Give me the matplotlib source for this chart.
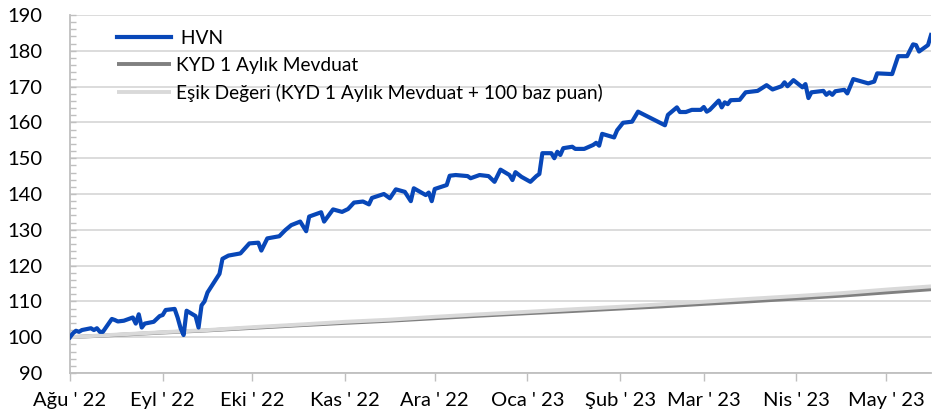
import matplotlib
matplotlib.use("Agg")
import matplotlib.pyplot as plt
from matplotlib.ticker import MultipleLocator
import pandas as pd

plt.rcParams['font.family'] = ['Lato', 'DejaVu Sans']

# ---------------- data ----------------
hvn_dates = [
    "2022-08-01", "2022-08-02", "2022-08-03", "2022-08-04", "2022-08-05", "2022-08-08", "2022-08-09",
    "2022-08-10", "2022-08-11", "2022-08-12", "2022-08-15", "2022-08-16", "2022-08-17", "2022-08-19",
    "2022-08-22", "2022-08-23", "2022-08-24", "2022-08-25", "2022-08-26", "2022-08-29", "2022-08-31",
    "2022-09-01", "2022-09-02", "2022-09-05", "2022-09-06", "2022-09-07", "2022-09-08", "2022-09-09",
    "2022-09-12", "2022-09-13", "2022-09-14", "2022-09-15", "2022-09-16", "2022-09-20", "2022-09-21",
    "2022-09-23", "2022-09-27", "2022-09-30",
    "2022-10-03", "2022-10-04", "2022-10-06", "2022-10-10", "2022-10-12", "2022-10-14", "2022-10-17",
    "2022-10-19", "2022-10-20", "2022-10-24", "2022-10-25", "2022-10-28", "2022-10-31",
    "2022-11-02", "2022-11-04", "2022-11-07", "2022-11-09", "2022-11-10", "2022-11-14", "2022-11-16",
    "2022-11-18", "2022-11-21", "2022-11-23", "2022-11-24", "2022-11-28", "2022-11-29", "2022-11-30",
    "2022-12-01", "2022-12-05", "2022-12-06", "2022-12-08", "2022-12-12", "2022-12-13", "2022-12-16",
    "2022-12-19", "2022-12-21", "2022-12-23", "2022-12-26", "2022-12-27", "2022-12-28", "2022-12-30",
    "2023-01-02", "2023-01-04", "2023-01-05", "2023-01-06", "2023-01-09", "2023-01-10", "2023-01-11",
    "2023-01-12", "2023-01-13", "2023-01-16", "2023-01-17", "2023-01-20", "2023-01-23", "2023-01-24",
    "2023-01-25", "2023-01-26", "2023-01-30", "2023-01-31",
    "2023-02-02", "2023-02-05", "2023-02-07", "2023-02-16", "2023-02-17", "2023-02-20", "2023-02-21",
    "2023-02-23", "2023-02-25", "2023-02-28",
    "2023-03-01", "2023-03-02", "2023-03-03", "2023-03-06", "2023-03-07", "2023-03-08", "2023-03-09",
    "2023-03-10", "2023-03-13", "2023-03-15", "2023-03-19", "2023-03-22", "2023-03-24", "2023-03-27",
    "2023-03-28", "2023-03-29", "2023-03-31",
    "2023-04-03", "2023-04-04", "2023-04-05", "2023-04-06", "2023-04-10", "2023-04-11", "2023-04-12",
    "2023-04-13", "2023-04-14", "2023-04-17", "2023-04-18", "2023-04-20", "2023-04-25", "2023-04-27",
    "2023-04-28",
    "2023-05-03", "2023-05-05", "2023-05-08", "2023-05-10", "2023-05-11", "2023-05-12", "2023-05-15",
    "2023-05-16",
]
hvn_values = [
    100.0, 101.1, 101.8, 101.5, 102.0, 102.5, 102.0, 102.5, 101.5, 101.5,
    105.1, 104.8, 104.4, 104.6, 105.5, 103.8, 106.4, 102.7, 103.8, 104.3, 105.9,
    106.2, 107.6, 107.9, 105.5, 102.5, 100.6, 107.4, 105.9, 102.7, 108.9, 110.0, 112.5,
    117.7, 121.9, 122.8, 123.4, 126.2,
    126.4, 124.2, 127.6, 128.2, 129.9, 131.3, 132.3, 129.6, 133.7, 134.9, 132.3, 135.7, 135.0,
    135.8, 137.6, 137.9, 137.1, 138.9, 140.0, 138.8, 141.3, 140.6, 138.0, 141.6, 139.7, 140.4, 138.0,
    141.4, 142.5, 145.1, 145.3, 145.0, 144.4, 145.3, 145.0, 143.4, 146.8, 145.3, 143.9, 146.1, 144.8,
    143.4, 145.0, 145.6, 151.4, 151.4, 150.0, 151.8, 150.9, 152.8, 153.2, 152.6, 152.6, 153.7, 154.3,
    153.5, 156.8, 155.8, 157.8,
    159.9, 160.2, 163.0, 159.2, 162.1, 164.2, 162.9, 162.9, 163.5, 163.5,
    164.3, 163.0, 163.5, 166.1, 164.2, 165.6, 165.1, 166.2, 166.3, 168.4, 168.8, 170.4, 169.2, 170.1,
    171.2, 170.1, 171.8,
    169.8, 170.7, 166.8, 168.4, 168.8, 167.7, 168.4, 167.7, 168.7, 169.1, 168.1, 172.1, 170.9, 171.4,
    173.7,
    173.5, 178.5, 178.5, 181.8, 181.6, 179.8, 181.6, 184.4,
]

ref_dates = [
    "2022-08-01", "2022-08-16", "2022-09-01", "2022-09-16", "2022-10-01", "2022-10-16",
    "2022-11-01", "2022-11-16", "2022-12-01", "2022-12-16", "2023-01-01", "2023-01-16",
    "2023-02-01", "2023-02-15", "2023-03-01", "2023-03-16", "2023-04-01", "2023-04-16",
    "2023-05-01", "2023-05-16",
]
kyd_values = [
    100.0, 100.6, 101.3, 101.9, 102.6, 103.3, 104.0, 104.6, 105.3, 106.0,
    106.7, 107.3, 108.0, 108.6, 109.3, 110.0, 110.8, 111.6, 112.5, 113.4,
]
esik_values = [
    100.0, 100.7, 101.4, 102.0, 102.8, 103.5, 104.3, 104.9, 105.7, 106.4,
    107.1, 107.8, 108.5, 109.2, 109.9, 110.7, 111.5, 112.3, 113.3, 114.2,
]

month_ticks = ["2022-08-01", "2022-09-01", "2022-10-01", "2022-11-01", "2022-12-01",
               "2023-01-01", "2023-02-01", "2023-03-01", "2023-04-01", "2023-05-01"]
month_labels = ["Ağu ' 22", "Eyl ' 22", "Eki ' 22", "Kas ' 22", "Ara ' 22",
                "Oca ' 23", "Şub ' 23", "Mar ' 23", "Nis ' 23", "May ' 23"]

series_names = [" HVN", "KYD 1 Aylık Mevduat", "Eşik Değeri (KYD 1 Aylık Mevduat + 100 baz puan)"]

# ---------------- plot ----------------
hd = pd.to_datetime(hvn_dates)
rd = pd.to_datetime(ref_dates)
mt = pd.to_datetime(month_ticks)

fig = plt.figure(figsize=(9.5, 4.2), dpi=100)
ax = fig.add_axes([70 / 950, 1 - 373 / 420, (931 - 70) / 950, (373 - 15) / 420])

ax.plot(rd, kyd_values, color="#808080", lw=2.8, label=series_names[1], zorder=3,
        solid_capstyle="butt")
ax.plot(rd, esik_values, color="#D9D9D9", lw=2.8, label=series_names[2], zorder=4,
        solid_capstyle="butt")
ax.plot(hd, hvn_values, color="#0847B8", lw=3.0, label=series_names[0], zorder=5,
        solid_joinstyle="round")

ax.set_ylim(90, 190)
ax.set_xlim(pd.Timestamp("2022-08-01"), pd.Timestamp("2023-05-16"))

ax.yaxis.set_major_locator(MultipleLocator(10))
ax.yaxis.set_minor_locator(MultipleLocator(2))
ax.grid(axis="y", which="major", color="#D9D9D9", lw=1.3, zorder=1)
for d in mt[1:]:
    ax.axvline(d, color="white", lw=2.0, zorder=1.5)

ax.set_xticks(mt)
ax.set_xticklabels(month_labels)

for s in ["top", "right"]:
    ax.spines[s].set_visible(False)
for s in ["left", "bottom"]:
    ax.spines[s].set_color("#BFBFBF")
    ax.spines[s].set_linewidth(1.3)

ax.tick_params(axis="y", which="major", direction="in", length=4, width=1.0, color="#BFBFBF",
               labelsize=14.5, pad=20, labelcolor="#000000")
ax.tick_params(axis="y", which="minor", direction="in", length=4, width=1.0, color="#BFBFBF")
ax.tick_params(axis="x", which="major", direction="out", length=6, width=1.0, color="#BFBFBF",
               labelsize=14.5, pad=8, labelcolor="#000000")

handles, labels = ax.get_legend_handles_labels()
order = [2, 0, 1]
leg = ax.legend([handles[i] for i in order], [labels[i] for i in order],
                loc="upper left", bbox_to_anchor=(0.055, 0.958), frameon=False,
                fontsize=13.75, handlelength=2.8, handletextpad=0.25, labelspacing=0.52,
                borderpad=0, borderaxespad=0)

fig.savefig("out.png", dpi=100)
